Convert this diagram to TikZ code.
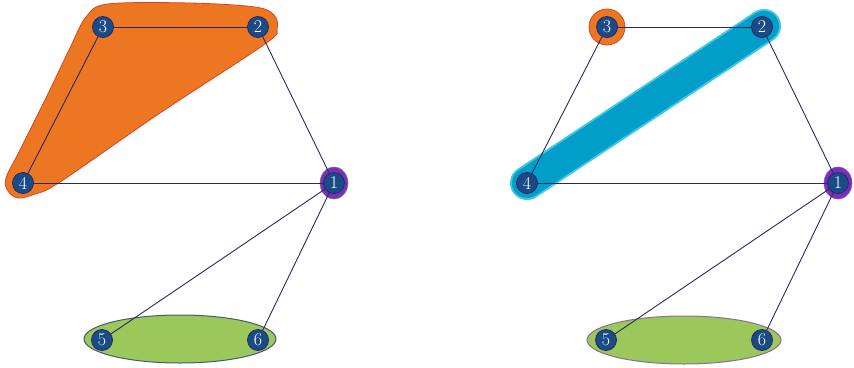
\documentclass[tikz,border=0pt]{standalone}
\definecolor{nodeblue}{RGB}{27,75,135}
\definecolor{edgenavy}{RGB}{40,40,100}
\definecolor{bloborange}{RGB}{237,118,35}
\definecolor{orangeline}{RGB}{215,70,35}
\definecolor{blobpurple}{RGB}{125,45,190}
\definecolor{purplelineA}{RGB}{110,150,120}
\definecolor{purplelineB}{RGB}{140,90,190}
\definecolor{blobgreen}{RGB}{155,200,90}
\definecolor{greenlineA}{RGB}{70,90,120}
\definecolor{greenlineB}{RGB}{140,110,150}
\definecolor{blobblue}{RGB}{0,158,200}
\definecolor{blobcyan}{RGB}{60,200,230}
\begin{document}
\begin{tikzpicture}[x=1pt,y=-1pt,
  vertex/.style={circle,fill=nodeblue,draw=edgenavy,line width=0.8pt,minimum size=21pt,inner sep=0pt,
    text=white,font=\fontsize{18}{18}\selectfont},
  link/.style={draw=edgenavy,line width=0.9pt}]
\useasboundingbox (0,0) rectangle (854,367);

% left picture: groups
\fill[bloborange,draw=orangeline,line width=0.8pt]
  plot[smooth cycle,tension=0.55] coordinates {(108,4) (190,3) (255,7) (274,15) (277,29) (265,44) (160,113) (60,182) (35,194) (18,198) (8,191) (6,178) (20,150) (45,100) (70,48) (86,17)};
\fill[blobpurple,draw=purplelineA,line width=0.6pt] (334,183) circle[x radius=14,y radius=16];
\fill[blobgreen,draw=greenlineA,line width=1pt] (180,339) ellipse[x radius=96,y radius=24];

% right picture: groups
\draw[blobcyan,line width=34pt,line cap=round] (527,183) -- (764,26);
\draw[blobblue,line width=30pt,line cap=round] (527,183) -- (764,26);
\fill[bloborange,draw=orangeline,line width=0.8pt] (607,27) circle[radius=18];
\fill[blobpurple,draw=purplelineB,line width=0.6pt] (838,183) circle[x radius=14,y radius=16];
\fill[blobgreen,draw=greenlineB,line width=1pt] (684,340) ellipse[x radius=97,y radius=24];

% vertices
\node[vertex] (a1) at (334,183) {1};
\node[vertex] (a2) at (258,27) {2};
\node[vertex] (a3) at (103,27) {3};
\node[vertex] (a4) at (23,183) {4};
\node[vertex] (a5) at (102,340) {5};
\node[vertex] (a6) at (258,340) {6};

\node[vertex] (b1) at (838,183) {1};
\node[vertex] (b2) at (762,27) {2};
\node[vertex] (b3) at (607,27) {3};
\node[vertex] (b4) at (527,183) {4};
\node[vertex] (b5) at (606,340) {5};
\node[vertex] (b6) at (762,340) {6};

% edges
\draw[link] (a3) -- (a2);
\draw[link] (a3) -- (a4);
\draw[link] (a2) -- (a1);
\draw[link] (a4) -- (a1);
\draw[link] (a1) -- (a5);
\draw[link] (a1) -- (a6);

\draw[link] (b3) -- (b2);
\draw[link] (b3) -- (b4);
\draw[link] (b2) -- (b1);
\draw[link] (b4) -- (b1);
\draw[link] (b1) -- (b5);
\draw[link] (b1) -- (b6);
\end{tikzpicture}
\end{document}
